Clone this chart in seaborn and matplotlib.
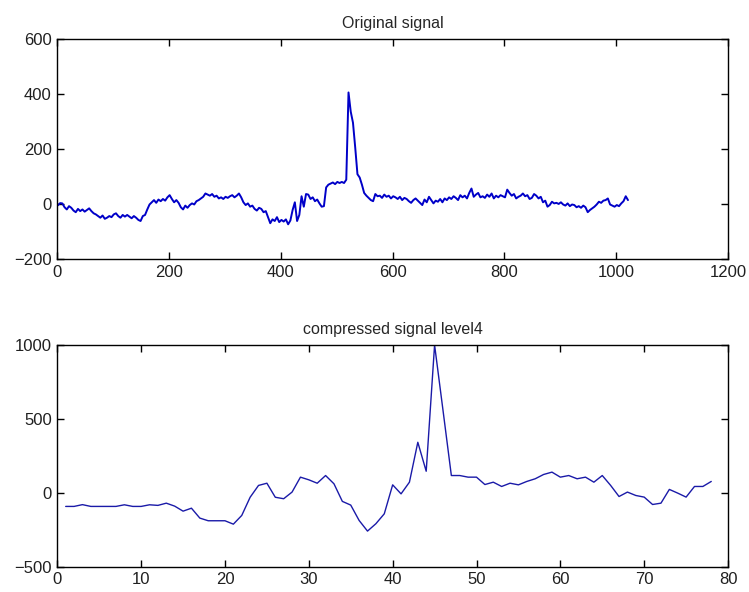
import numpy as np
import pandas as pd
import seaborn as sns
import matplotlib
matplotlib.use("Agg")
import matplotlib.pyplot as plt

# original signal, read every 4th sample (sample index 1..1024)
orig_step = 4
orig_vals = [
    -5, 3, 2, -12, -20, -8, -14, -24, -30, -18, -26, -20, -28, -22, -16, -26,
    -34, -38, -44, -50, -42, -54, -50, -44, -48, -38, -34, -44, -50, -40, -46, -40,
    -46, -52, -44, -50, -58, -62, -44, -40, -20, -2, 6, 14, 4, 16, 10, 18,
    12, 24, 32, 18, 6, 14, 4, -12, -20, -6, -14, -4, 2, -2, 10, 14,
    20, 26, 38, 34, 30, 36, 26, 30, 20, 24, 18, 26, 22, 28, 32, 24,
    30, 38, 24, 6, -4, 2, -10, -6, -18, -24, -14, -18, -30, -26, -48, -70,
    -56, -62, -48, -66, -58, -64, -56, -74, -60, -22, 6, -62, -40, 28, -10, 36,
    34, 18, 24, 10, 16, 2, -10, -8, 60, 70, 74, 78, 72, 80, 76, 80,
    76, 88, 405, 335, 295, 205, 108, 96, 70, 40, 30, 22, 14, 10, 36, 28,
    30, 22, 34, 26, 30, 20, 28, 24, 18, 26, 14, 22, 18, 10, 4, 14,
    20, 12, 4, -4, 16, 6, 26, 14, 2, 12, 8, 18, 6, 20, 14, 24,
    18, 28, 22, 14, 32, 24, 30, 20, 40, 56, 26, 34, 40, 24, 28, 22,
    34, 26, 38, 20, 30, 24, 32, 28, 24, 52, 40, 30, 36, 20, 26, 30,
    38, 28, 32, 18, 22, 36, 30, 20, 26, 6, 12, -10, -4, 8, 2, 4,
    0, 6, -2, -6, 2, -8, -2, -4, -12, -8, -14, -6, -12, -30, -22, -16,
    -10, -2, 8, 4, 12, 14, 20, -2, -6, -10, -4, -8, 2, 10, 28, 14,
]

# compressed signal, level 4 (index 1..78)
comp_vals = [
    -92, -92, -80, -92, -92, -92, -92, -81, -92, -92,
    -81, -85, -70, -90, -124, -104, -171, -189, -189, -189,
    -212, -153, -30, 50, 65, -30, -40, 5, 106, 88,
    65, 117, 61, -58, -83, -187, -259, -209, -142, 54,
    -7, 72, 342, 146, 1000, 560, 117, 117, 106, 106,
    56, 72, 43, 65, 54, 77, 95, 124, 140, 106,
    117, 95, 106, 72, 117, 50, -25, 5, -18, -29,
    -79, -70, 23, -2, -29, 43, 43, 77,
]

orig_x = np.arange(len(orig_vals)) * orig_step + 1
comp_x = np.arange(1, len(comp_vals) + 1)
df_orig = pd.DataFrame({"n": orig_x, "v": orig_vals})
df_comp = pd.DataFrame({"n": comp_x, "v": comp_vals})

sns.set_style("ticks")
plt.rcParams['font.family'] = ['Liberation Sans', 'DejaVu Sans']
plt.rcParams['xtick.direction'] = 'in'
plt.rcParams['ytick.direction'] = 'in'

fig = plt.figure(figsize=(7.49, 5.92), dpi=100)
ax1 = fig.add_axes([0.0765, 0.5625, 0.8955, 0.372])
ax2 = fig.add_axes([0.0765, 0.0427, 0.8955, 0.3745])

sns.lineplot(data=df_orig, x="n", y="v", ax=ax1, color="#0000c8", lw=1.4)
sns.lineplot(data=df_comp, x="n", y="v", ax=ax2, color="#1a1aa8", lw=1.0)

for ax, xl, yl, xt, yt, title in [
    (ax1, (0, 1200), (-200, 600), range(0, 1201, 200), range(-200, 601, 200), "Original signal"),
    (ax2, (0, 80), (-500, 1000), range(0, 81, 10), range(-500, 1001, 500), "compressed signal level4"),
]:
    ax.set_xlim(*xl)
    ax.set_ylim(*yl)
    ax.set_xticks(list(xt))
    ax.set_yticks(list(yt))
    ax.set_xlabel("")
    ax.set_ylabel("")
    ax.set_title(title, fontsize=11.5, pad=8)
    ax.tick_params(axis="both", which="both", top=True, right=True, length=5,
                   width=1, labelsize=12, color="black", labelcolor="#202020", pad=4)
    for sp in ax.spines.values():
        sp.set_visible(True)
        sp.set_color("black")
        sp.set_linewidth(1.0)

fig.savefig("out.png", dpi=100, facecolor="white")
